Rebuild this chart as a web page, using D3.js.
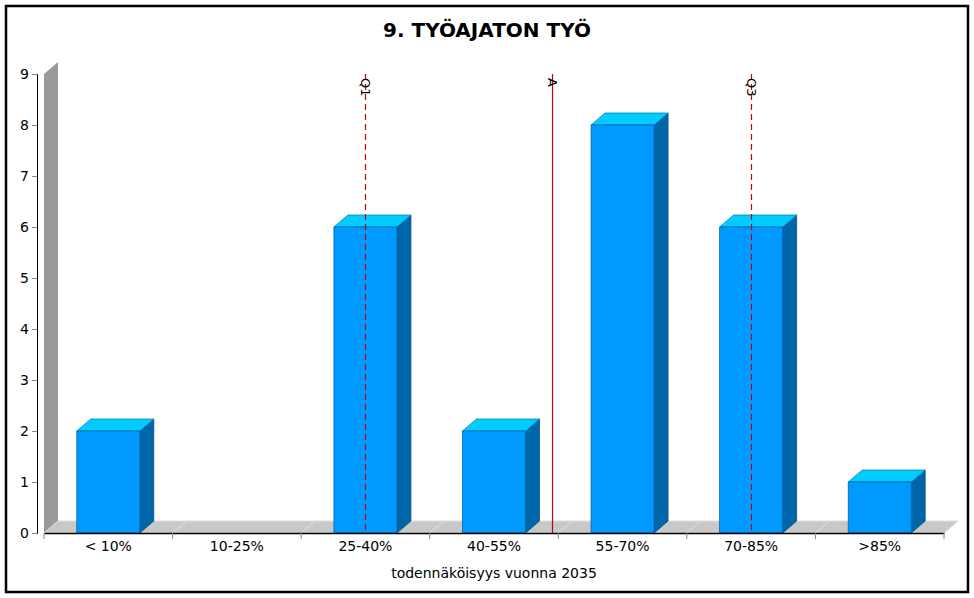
<!DOCTYPE html>
<html><head><meta charset="utf-8">
<script src="https://cdn.jsdelivr.net/npm/d3@7"></script>
<style>body{margin:0;background:#fff}</style></head>
<body><svg id="c" width="974" height="598"></svg>
<script>
const categories=["< 10%","10-25%","25-40%","40-55%","55-70%","70-85%",">85%"];
const values=[2,0,6,2,8,6,1];
const yTicks=[0,1,2,3,4,5,6,7,8,9];
const markers=[{label:"Q1",pos:2.5,dash:true},{label:"A",pos:3.95,dash:false},{label:"Q3",pos:5.5,dash:true}];
const title="9. TYÖAJATON TYÖ", xTitle="todennäköisyys vuonna 2035";

const svg=d3.select("#c");
const font="DejaVu Sans";
svg.append("rect").attr("x",6).attr("y",6).attr("width",962).attr("height",586).attr("fill","#fff").attr("stroke","#000").attr("stroke-width",2.5);
svg.append("text").attr("x",487).attr("y",37).attr("text-anchor","middle").attr("font-family",font).attr("font-weight","bold").attr("font-size",20).text(title);

const x0=44,x1=944,yb=533,yt=74,dx=14,dy=12;
const x=d3.scaleBand().domain(categories).range([x0,x1]).paddingInner(0).paddingOuter(0);
const y=d3.scaleLinear().domain([0,9]).range([yb,yt]);
const g=svg.append("g");
// wall
g.append("path").attr("d",`M${x0},${yb}L${x0},${yt}L${x0+dx},${yt-dy}L${x0+dx},${yb-dy}Z`).attr("fill","#999");
// floor segments
categories.forEach((c,i)=>{const a=x(c),b=a+x.bandwidth();
 g.append("path").attr("d",`M${a},${yb}L${a+dx},${yb-dy}L${b+dx},${yb-dy}L${b},${yb}Z`).attr("fill","#c8c8c8").attr("stroke","#ddd").attr("stroke-width",1);});
// y axis
const ya=svg.append("g").attr("transform",`translate(37,0)`).call(d3.axisLeft(y).tickValues(yTicks).tickSize(5).tickFormat(d3.format("d")));
ya.selectAll("text").attr("font-family",font).attr("font-size",14).attr("fill","#000");
ya.select(".domain").attr("stroke","#000");
ya.selectAll(".tick line").attr("stroke","#888");
// x axis
const xa=svg.append("g").attr("transform",`translate(0,${yb})`).call(d3.axisBottom(x).tickSize(0).tickSizeOuter(0));
xa.select(".domain").attr("stroke","#000").attr("stroke-width",1.5);
xa.selectAll("text").attr("font-family",font).attr("font-size",14).attr("fill","#000").attr("dy","1.1em");
const edges=categories.map(c=>x(c)).concat([x1]);
svg.selectAll(".xt").data(edges).enter().append("line").attr("x1",d=>d).attr("x2",d=>d).attr("y1",yb).attr("y2",yb+6).attr("stroke","#888");
svg.append("text").attr("x",(x0+x1)/2).attr("y",578).attr("text-anchor","middle").attr("font-family",font).attr("font-size",14).text(xTitle);
// bars
const bw=63;
categories.forEach((c,i)=>{const v=values[i]; if(!v) return;
 const a=x(c)+(x.bandwidth()-bw)/2,b=a+bw,t=y(v);
 g.append("path").attr("d",`M${b},${yb}L${b+dx},${yb-dy}L${b+dx},${t-dy}L${b},${t}Z`).attr("fill","#0066aa").attr("stroke","#005080").attr("stroke-width",0.8);
 g.append("path").attr("d",`M${a},${t}L${a+dx},${t-dy}L${b+dx},${t-dy}L${b},${t}Z`).attr("fill","#00ccff").attr("stroke","#0088bb").attr("stroke-width",0.8);
 g.append("rect").attr("x",a).attr("y",t).attr("width",bw).attr("height",yb-t).attr("fill","#0099ff").attr("stroke","#0066aa").attr("stroke-width",0.8);
});
// markers
const mx=d3.scaleLinear().domain([0,categories.length]).range([x0,x1]);
markers.forEach(m=>{const px=Math.round(mx(m.pos))+0.5;
 svg.append("line").attr("x1",px).attr("x2",px).attr("y1",yt).attr("y2",yb).attr("stroke","#d00000").attr("stroke-width",1.2).attr("stroke-dasharray",m.dash?"6,4":null);
 svg.append("text").attr("transform",`translate(${px+5},${yt+4}) rotate(90)`).attr("font-family",font).attr("font-size",13).attr("dominant-baseline","hanging").text(m.label);
});
</script></body></html>
